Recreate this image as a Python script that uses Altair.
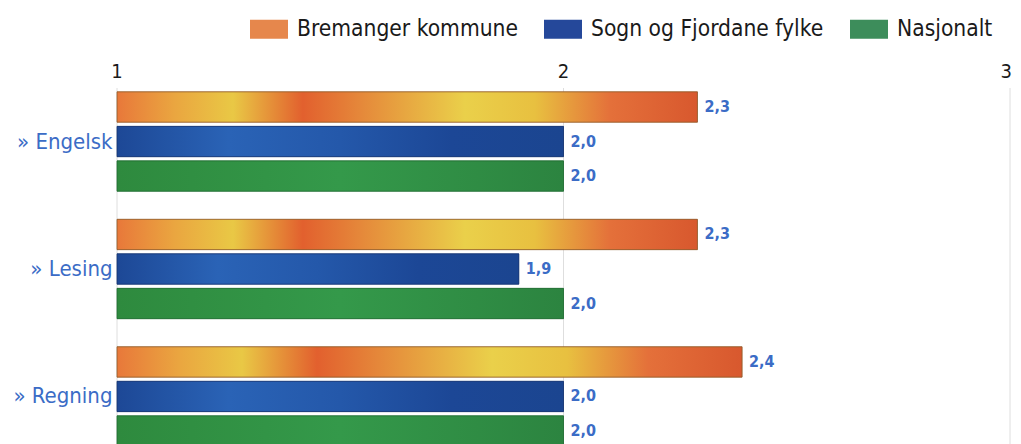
import altair as alt
import pandas as pd

# ---- data ----
subjects = ["Engelsk", "Lesing", "Regning"]
series_names = ["Bremanger kommune", "Sogn og Fjordane fylke", "Nasjonalt"]
bremanger = [2.3, 2.3, 2.4]
sogn_fjordane = [2.0, 1.9, 2.0]
nasjonalt = [2.0, 2.0, 2.0]
x_ticks = [1, 2, 3]
legend_colors = ["#e6874c", "#25489a", "#3d8d5b"]

rows = []
for vals, s in zip([bremanger, sogn_fjordane, nasjonalt], series_names):
    for subj, v in zip(subjects, vals):
        rows.append({"subject": subj, "series": s, "value": v, "base": 1.0,
                     "label": f"{v:.1f}".replace(".", ",")})
df = pd.DataFrame(rows)
tick_df = pd.DataFrame({"tick": x_ticks, "tick_label": [str(t) for t in x_ticks]})

FONT = "'DejaVu Sans Condensed', 'Liberation Sans Narrow', 'Roboto Condensed', sans-serif"
LABEL_BLUE = "#3b6cc6"


def grad(stops):
    return {"gradient": "linear", "x1": 0, "y1": 0, "x2": 1, "y2": 0,
            "stops": [{"offset": o, "color": c} for o, c in stops]}


grad_orange = grad([(0, "#e8783a"), (0.1, "#eaa640"), (0.2, "#e9c845"), (0.32, "#e2602e"),
                    (0.42, "#e5883a"), (0.6, "#ead04a"), (0.72, "#e8c040"), (0.85, "#e4703a"),
                    (1, "#d8582e")])
grad_blue = grad([(0, "#1d4896"), (0.25, "#2a63b6"), (0.5, "#2458aa"), (0.75, "#1c4796"),
                  (1, "#1b4590")])
grad_green = grad([(0, "#2e8a3e"), (0.5, "#34994a"), (1, "#2c8440")])
fills = [grad_orange, grad_blue, grad_green]
strokes = ["#8a5a2a", "#15336e", "#1f6a30"]

x_scale = alt.Scale(domain=[1, 3], nice=False, zero=False)
x_enc = alt.X("value:Q", scale=x_scale, axis=None)
y_enc = alt.Y("subject:N", sort=subjects,
              scale=alt.Scale(paddingInner=0.22, paddingOuter=0.03),
              axis=alt.Axis(title=None, ticks=False, domain=False, labelPadding=5,
                            labelFontSize=22, labelColor=LABEL_BLUE, labelFont=FONT,
                            labelExpr="'» ' + datum.label"))
yoff = alt.YOffset("series:N", sort=series_names,
                   scale=alt.Scale(domain=series_names, paddingInner=0.12))

base = alt.Chart(df)

# vertical grid lines at the tick values
grid_layer = alt.Chart(tick_df).mark_rule(color="#dedede", strokeWidth=1).encode(
    x=alt.X("tick:Q", scale=x_scale, axis=None))

legend_layer = base.mark_bar().encode(
    x=x_enc, x2="base:Q", y=y_enc, yOffset=yoff,
    color=alt.Color("series:N",
                    scale=alt.Scale(domain=series_names, range=legend_colors),
                    legend=alt.Legend(title=None, orient="none", legendX=133, legendY=-78,
                                      direction="horizontal",
                                      symbolType="M-1,-0.5L1,-0.5L1,0.5L-1,0.5Z",
                                      symbolSize=1444, symbolStrokeWidth=0,
                                      labelFontSize=22.6, labelFont=FONT,
                                      labelColor="#1a1a1a", labelOffset=9,
                                      columnPadding=26, labelLimit=400)))

grad_layers = []
for name, f, s in zip(series_names, fills, strokes):
    grad_layers.append(
        base.transform_filter(alt.datum.series == name)
        .mark_bar(fill=f, stroke=s, strokeWidth=1, strokeOpacity=0.8)
        .encode(x=x_enc, x2="base:Q", y=y_enc, yOffset=yoff)
    )

text_layer = base.mark_text(align="left", baseline="middle", dx=7, fontSize=16,
                            fontWeight="bold", color=LABEL_BLUE, font=FONT).encode(
    x=x_enc, y=y_enc, yOffset=yoff, text="label:N")

# tick labels on top (last one right-aligned so it stays inside the page)
tick_text_mid = alt.Chart(tick_df).transform_filter("datum.tick < 3").mark_text(
    align="center", baseline="bottom", fontSize=20, font=FONT, color="#1a1a1a").encode(
    x=alt.X("tick:Q", scale=x_scale, axis=None), y=alt.value(-6), text="tick_label:N")
tick_text_end = alt.Chart(tick_df).transform_filter("datum.tick >= 3").mark_text(
    align="right", baseline="bottom", dx=2, fontSize=20, font=FONT, color="#1a1a1a").encode(
    x=alt.X("tick:Q", scale=x_scale, axis=None), y=alt.value(-6), text="tick_label:N")

chart = alt.layer(grid_layer, legend_layer, *grad_layers, text_layer,
                  tick_text_mid, tick_text_end).properties(
    width=893, height=362,
    autosize=alt.AutoSizeParams(type="none"),
    padding={"left": 109, "top": 80, "right": 3, "bottom": 0},
    background="white",
).configure_view(stroke=None)

chart.save("out.html", embed_options={"renderer": "svg", "actions": False})
